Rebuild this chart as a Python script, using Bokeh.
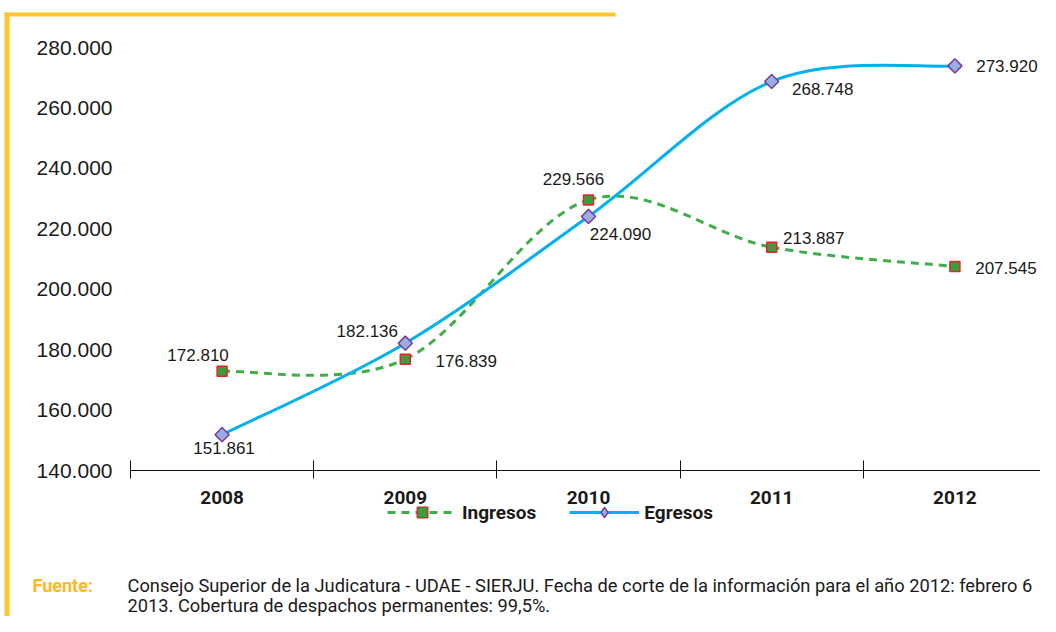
import math
from bokeh.plotting import figure
from bokeh.models import (Range1d, LinearAxis, FixedTicker, CustomJSTickFormatter,
                          ColumnDataSource, Legend, LegendItem, Label, BoxAnnotation)
from bokeh.core.properties import value
from bokeh.embed import file_html
from bokeh.resources import INLINE

# ---------------- data ----------------
years = ["2008", "2009", "2010", "2011", "2012"]
ingresos = [172810, 176839, 229566, 213887, 207545]
egresos = [151861, 182136, 224090, 268748, 273920]
y_ticks = [140000, 160000, 180000, 200000, 220000, 240000, 260000, 280000]
fuente_l1 = ("Consejo Superior de la Judicatura - UDAE - SIERJU. Fecha de corte de la "
             "información para el año 2012: febrero 6")
fuente_l2 = "2013. Cobertura de despachos permanentes: 99,5%."

# label placement (pixels, styles only)
ing_dx = [-24, 61, -15, 42, 51]
ing_dy = [-16, 2, -21, -9, 2]
egr_dx = [2, -38, 32, 51, 52]
egr_dy = [13, -12, 18, 8, 0]

FONT = "Liberation Sans"
NARROW = "Roboto"
TXT = "#1a1a1a"
YELLOW = "#FFC52F"
FUENTE = "#FBB91E"
GREEN = "#3FAE49"
SQ_FILL = "#3A9E3E"
SQ_LINE = "#E0262A"
BLUE = "#00B0F0"
DI_FILL = "#98AEE0"
DI_LINE = "#7A3A9A"
NAN = float("nan")

def fmt(v):
    return "{:,}".format(v).replace(",", ".")

xs = [i + 0.5 for i in range(len(years))]

def bezier_segments(ys):
    n = len(ys)
    P = list(zip(xs, ys))
    d = dict(x0=[], y0=[], x1=[], y1=[], cx0=[], cy0=[], cx1=[], cy1=[])
    for i in range(n - 1):
        p0 = P[i - 1] if i > 0 else P[i]
        p1 = P[i]
        p2 = P[i + 1]
        p3 = P[i + 2] if i + 2 < n else P[i + 1]
        d["x0"].append(p1[0]); d["y0"].append(p1[1])
        d["x1"].append(p2[0]); d["y1"].append(p2[1])
        d["cx0"].append(p1[0] + (p2[0] - p0[0]) / 6)
        d["cy0"].append(p1[1] + (p2[1] - p0[1]) / 6)
        d["cx1"].append(p2[0] - (p3[0] - p1[0]) / 6)
        d["cy1"].append(p2[1] - (p3[1] - p1[1]) / 6)
    return ColumnDataSource(d)

# ---------------- layout geometry (pixels) ----------------
W, H = 1040, 616
AX_LEFT, AX_RIGHT = 130, 1046        # category axis extent
Y_BOT_PX, Y_TOP_PX = 470, 47         # pixel rows of 140.000 and 280.000
ncat = len(years)
px_per_cat = (AX_RIGHT - AX_LEFT) / ncat
y_lo, y_hi = y_ticks[0], y_ticks[-1]
units_per_px = (y_hi - y_lo) / (Y_BOT_PX - Y_TOP_PX)

p = figure(width=W, height=H, output_backend="svg", toolbar_location=None,
           x_range=Range1d(-AX_LEFT / px_per_cat, ncat + (W - AX_RIGHT) / px_per_cat),
           y_range=Range1d(y_lo - (H - Y_BOT_PX) * units_per_px, y_hi + Y_TOP_PX * units_per_px),
           x_axis_type=None, y_axis_type=None,
           min_border=0, min_border_left=0, min_border_right=0,
           min_border_top=0, min_border_bottom=0)
p.outline_line_color = None
p.grid.visible = False
p.background_fill_color = "white"
p.border_fill_color = "white"

# y axis
yax = LinearAxis(ticker=FixedTicker(ticks=y_ticks, minor_ticks=[]), fixed_location=0)
yax.formatter = CustomJSTickFormatter(
    code="return String(Math.round(tick)).replace(/\\B(?=(\\d{3})+(?!\\d))/g, '.');")
yax.axis_line_color = None
yax.major_tick_line_color = None
yax.minor_tick_line_color = None
yax.major_tick_out = 0
yax.major_tick_in = 0
yax.major_label_standoff = 18
yax.major_label_text_font = FONT
yax.major_label_text_font_size = "21px"
yax.major_label_text_color = TXT
p.add_layout(yax, "left")

# x axis: labels at category centres, tick marks at category boundaries
xax = LinearAxis(ticker=FixedTicker(ticks=xs, minor_ticks=list(range(ncat + 1))),
                 fixed_location=y_lo, bounds=(0, ncat))
xax.major_label_overrides = {x: y for x, y in zip(xs, years)}
xax.axis_line_color = "#111111"
xax.axis_line_width = 1.2
xax.major_tick_line_color = None
xax.major_tick_in = 0
xax.major_tick_out = 0
xax.minor_tick_line_color = "#111111"
xax.minor_tick_line_width = 1
xax.minor_tick_in = 10
xax.minor_tick_out = 8
xax.major_label_standoff = 12
xax.major_label_text_font = NARROW
xax.major_label_text_font_style = "bold"
xax.major_label_text_font_size = "19px"
xax.major_label_text_color = TXT
p.add_layout(xax, "below")

# curves
src_i = bezier_segments(ingresos)
src_e = bezier_segments(egresos)
p.bezier(x0="x0", y0="y0", x1="x1", y1="y1", cx0="cx0", cy0="cy0", cx1="cx1", cy1="cy1",
         source=src_i, line_color=GREEN, line_width=3, line_dash="8 6")
p.bezier(x0="x0", y0="y0", x1="x1", y1="y1", cx0="cx0", cy0="cy0", cx1="cx1", cy1="cy1",
         source=src_e, line_color=BLUE, line_width=3)

pts_i = ColumnDataSource(dict(x=xs, y=ingresos, t=[fmt(v) for v in ingresos], dx=ing_dx, dy=ing_dy))
pts_e = ColumnDataSource(dict(x=xs, y=egresos, t=[fmt(v) for v in egresos], dx=egr_dx, dy=egr_dy))

sc_i = p.scatter("x", "y", source=pts_i, marker="square", size=10,
                 fill_color=SQ_FILL, line_color=SQ_LINE, line_width=1.5)
sc_e = p.scatter("x", "y", source=pts_e, marker="square", size=10, angle=math.pi / 4,
                 fill_color=DI_FILL, line_color=DI_LINE, line_width=1.5)

for s in (pts_i, pts_e):
    p.text("x", "y", text="t", source=s, x_offset="dx", y_offset="dy",
           text_align="center", text_baseline="middle",
           text_font=value(FONT), text_font_size="17px", text_color=TXT)

# legend (key glyphs only; no data)
dl_i = p.line([NAN], [NAN], line_color=GREEN, line_width=3, line_dash="8 6")
dl_e = p.line([NAN], [NAN], line_color=BLUE, line_width=3)
dm_i = p.scatter([NAN], [NAN], marker="square", size=10,
                 fill_color=SQ_FILL, line_color=SQ_LINE, line_width=1.5)
dm_e = p.scatter([NAN], [NAN], marker="diamond", size=17,
                 fill_color=DI_FILL, line_color=DI_LINE, line_width=1.5)
legend = Legend(items=[LegendItem(label="Ingresos", renderers=[dl_i, dm_i]),
                       LegendItem(label="Egresos", renderers=[dl_e, dm_e])],
                location=(387, H - 525), orientation="horizontal",
                glyph_width=70, glyph_height=26, label_standoff=5, spacing=33,
                padding=0, margin=0, border_line_color=None,
                background_fill_alpha=0,
                label_text_font=NARROW, label_text_font_style="bold",
                label_text_font_size="19px", label_text_color=TXT)
p.add_layout(legend)

# source note
p.add_layout(Label(x=32, y=H - 585, x_units="screen", y_units="screen", text="Fuente:",
                   text_font=NARROW, text_font_style="bold", text_font_size="18px",
                   text_color=FUENTE, text_baseline="middle"))
p.add_layout(Label(x=127, y=H - 585, x_units="screen", y_units="screen", text=fuente_l1,
                   text_font=NARROW, text_font_size="18.3px", text_color=TXT,
                   text_baseline="middle"))
p.add_layout(Label(x=127, y=H - 605, x_units="screen", y_units="screen", text=fuente_l2,
                   text_font=NARROW, text_font_size="18.3px", text_color=TXT,
                   text_baseline="middle"))

# yellow frame
for l, r, t, b in ((4, 615, 12, 16), (4, 9, 12, H)):
    p.add_layout(BoxAnnotation(left=l, right=r, top=t, bottom=b,
                               left_units="canvas", right_units="canvas",
                               top_units="canvas", bottom_units="canvas",
                               fill_color=YELLOW, fill_alpha=1, line_color=None,
                               level="underlay"))

open("out.html", "w").write(file_html(p, INLINE))
